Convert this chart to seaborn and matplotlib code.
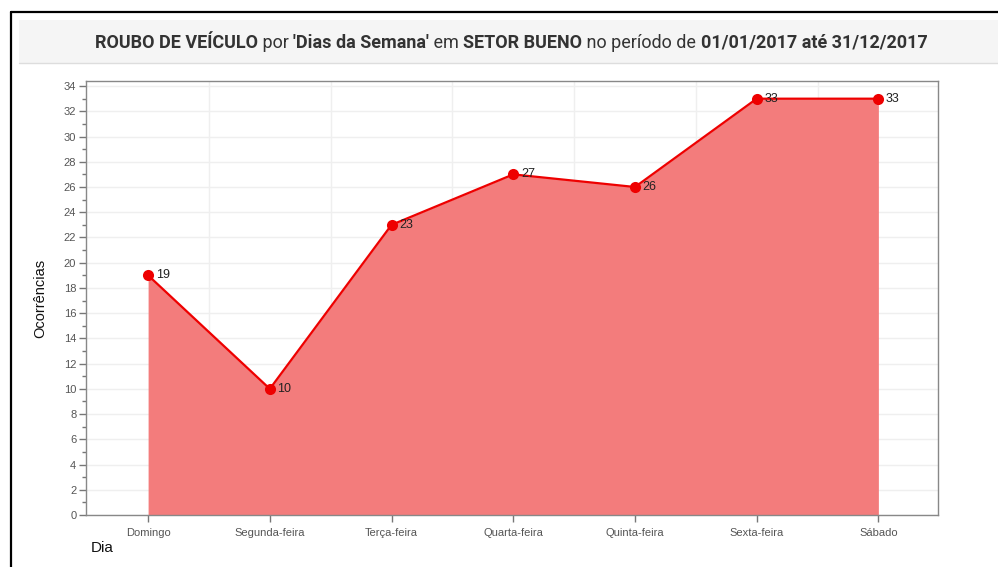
import numpy as np
import pandas as pd
import matplotlib
matplotlib.use("Agg")
import matplotlib.pyplot as plt
import seaborn as sns
from matplotlib.patches import Rectangle
from matplotlib.lines import Line2D
from matplotlib.ticker import MultipleLocator, FixedLocator

# --- data ---
dias = ["Domingo", "Segunda-feira", "Terça-feira", "Quarta-feira",
        "Quinta-feira", "Sexta-feira", "Sábado"]
ocorrencias = [19, 10, 23, 27, 26, 33, 33]
y_ticks = list(range(0, 35, 2))

title_parts = [
    ("ROUBO DE VEÍCULO", "bold"),
    (" por ", "normal"),
    ("'Dias da Semana'", "bold"),
    (" em ", "normal"),
    ("SETOR BUENO", "bold"),
    (" no período de ", "normal"),
    ("01/01/2017 até 31/12/2017", "bold"),
]

sns.set_theme(style="white")
plt.rcParams["font.family"] = ["Liberation Sans", "DejaVu Sans"]

df = pd.DataFrame({"dia": dias, "ocorrencias": ocorrencias})
pos = np.arange(len(dias))

fig = plt.figure(figsize=(9.98, 5.67), dpi=100)
ax = fig.add_axes([0.0862, 0.0917, 0.8537, 0.7654])

# outer frame + title band
fig.add_artist(Line2D([0.011, 0.011], [0, 0.979], transform=fig.transFigure,
                      color="black", lw=1.6))
fig.add_artist(Line2D([0.011, 1.0], [0.979, 0.979], transform=fig.transFigure,
                      color="black", lw=1.6))
fig.add_artist(Rectangle((0.019, 0.889), 0.981, 0.076, transform=fig.transFigure,
                         facecolor="#f5f5f5", edgecolor="none"))
fig.add_artist(Line2D([0.019, 1.0], [0.889, 0.889], transform=fig.transFigure,
                      color="#dddddd", lw=1))

# area + line
ax.fill_between(pos, df["ocorrencias"], 0, color="#f37c7c", lw=0, zorder=2)
sns.lineplot(x=pos, y=df["ocorrencias"], ax=ax, color="#ee0000", lw=1.6,
             marker="o", markersize=8, markeredgewidth=0, zorder=3)
for x, v in zip(pos, ocorrencias):
    ax.annotate(str(v), (x, v), xytext=(5.5, 0), textcoords="offset points",
                va="center", ha="left", fontsize=9, color="#222222", zorder=4)

ax.set_xlim(-0.51, 6.49)
ax.set_ylim(0, 34.4)
ax.set_xticks(pos)
ax.set_xticklabels(dias)
ax.yaxis.set_major_locator(FixedLocator(y_ticks))
ax.yaxis.set_minor_locator(MultipleLocator(1))
ax.xaxis.set_minor_locator(FixedLocator(pos[:-1] + 0.5))

ax.grid(True, which="major", axis="y", color="#efefef", lw=1, zorder=0)
ax.grid(True, which="minor", axis="x", color="#efefef", lw=1, zorder=0)
ax.set_axisbelow(True)

for s in ax.spines.values():
    s.set_color("#888888")
    s.set_linewidth(1)
ax.tick_params(axis="y", which="major", length=5, width=1, color="#777777",
               labelsize=8, labelcolor="#555555", pad=2, left=True)
ax.tick_params(axis="y", which="minor", length=3, width=1, color="#777777", left=True)
ax.tick_params(axis="x", which="major", length=5, width=1, color="#777777",
               labelsize=8, labelcolor="#555555", pad=4, bottom=True)
ax.tick_params(axis="x", which="minor", length=0)

ax.set_ylabel("Ocorrências", fontsize=10.5, color="#111111", labelpad=12)
ax.set_xlabel("")
fig.text(0.091, 0.033, "Dia", fontsize=11, color="#111111", ha="left", va="center")

# mixed-weight title, centered
fig.canvas.draw()
renderer = fig.canvas.get_renderer()
texts = []
for txt, w in title_parts:
    t = fig.text(0, 0.925, txt, fontsize=13, fontweight=w, color="#333333",
                 family=["Roboto", "DejaVu Sans"], va="center", ha="left")
    texts.append(t)
widths = [t.get_window_extent(renderer).width for t in texts]
total = sum(widths)
x0 = 511 - total / 2
for t, w in zip(texts, widths):
    t.set_x(x0 / fig.bbox.width)
    x0 += w

fig.savefig("out.png", dpi=100)
